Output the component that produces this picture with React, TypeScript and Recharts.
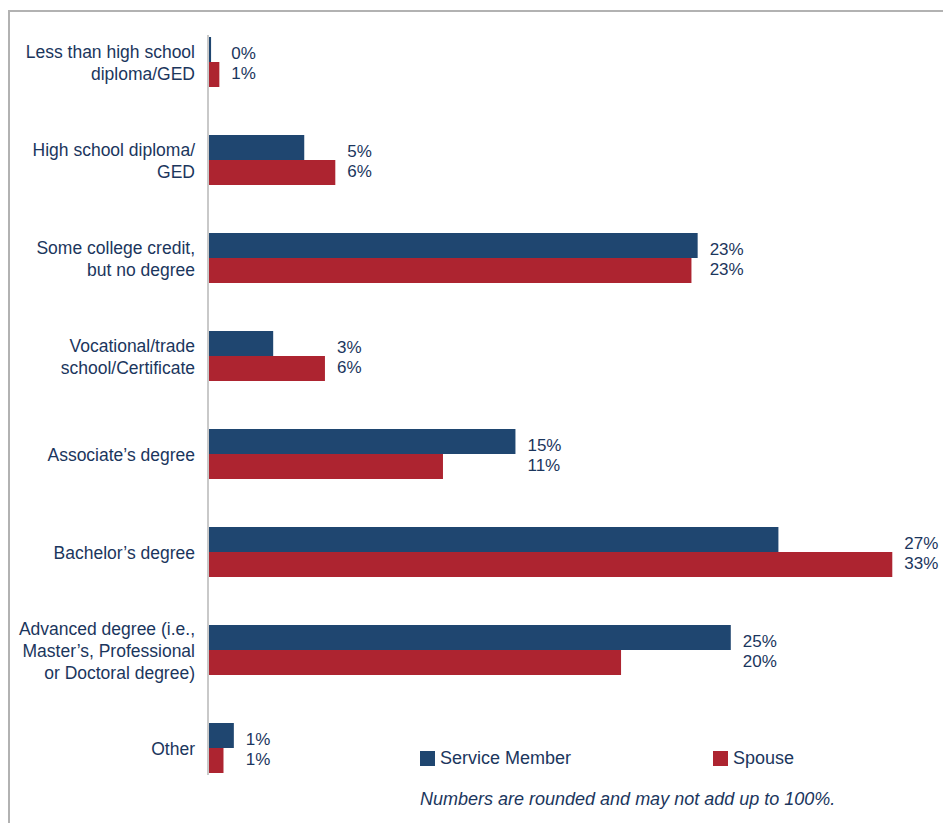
import React from 'react';
import { BarChart, Bar, XAxis, YAxis, LabelList } from 'recharts';

const categories = [
  'Less than high school\ndiploma/GED',
  'High school diploma/\nGED',
  'Some college credit,\nbut no degree',
  'Vocational/trade\nschool/Certificate',
  'Associate’s degree',
  'Bachelor’s degree',
  'Advanced degree (i.e.,\nMaster’s, Professional\nor Doctoral degree)',
  'Other',
];

// bar lengths as drawn (unrounded), and the rounded figures printed next to them
const serviceMember = [0.1, 4.6, 23.6, 3.1, 14.8, 27.5, 25.2, 1.2];
const spouse = [0.5, 6.1, 23.3, 5.6, 11.3, 33.0, 19.9, 0.7];
const serviceMemberPrinted = [0, 5, 23, 3, 15, 27, 25, 1];
const spousePrinted = [1, 6, 23, 6, 11, 33, 20, 1];

const seriesNames = ['Service Member', 'Spouse'];
const note = 'Numbers are rounded and may not add up to 100%.';

const NAVY = '#1f4670';
const RED = '#ad2430';
const TEXT = '#1b365d';
const FONT = '"Liberation Sans", Arial, sans-serif';

const data = categories.map((c, i) => ({
  name: c,
  sm: serviceMember[i],
  sp: spouse[i],
  smLabel: serviceMemberPrinted[i],
  spLabel: spousePrinted[i],
  top: Math.max(serviceMember[i], spouse[i]),
}));

const CategoryTick = (props: any) => {
  const { x, y, payload } = props;
  const lines: string[] = String(payload.value).split('\n');
  const start = y + 1 - ((lines.length - 1) * 22) / 2;
  return (
    <text x={x} y={start} textAnchor="end" fill={TEXT} fontSize={17.5} fontFamily={FONT}>
      {lines.map((l, i) => (
        <tspan key={i} x={x} y={start + i * 22} dominantBaseline="central">
          {l}
        </tspan>
      ))}
    </text>
  );
};

// both labels of a pair sit just past the longer bar
const makeLabel = (which: 'sm' | 'sp') => (props: any) => {
  const { x, y, width, height, index } = props;
  const row = data[index];
  const own = which === 'sm' ? row.sm : row.sp;
  const perUnit = width / own;
  const lx = x + perUnit * row.top + 12;
  const ly = which === 'sm' ? y + height - 9 : y + 11;
  const txt = (which === 'sm' ? row.smLabel : row.spLabel) + '%';
  return (
    <text x={lx} y={ly} fill={TEXT} fontSize={17} fontFamily={FONT} dominantBaseline="central">
      {txt}
    </text>
  );
};

const App = () => (
  <div style={{ position: 'relative', width: 935, height: 815, margin: '8px 0 0 8px', fontFamily: FONT }}>
    <style>{'body { margin: 0; }'}</style>
    <div
      style={{
        position: 'absolute',
        left: 0,
        top: 2,
        width: 935,
        height: 823,
        borderTop: '2px solid #b2b2b2',
        borderLeft: '2px solid #b2b2b2',
        boxSizing: 'border-box',
      }}
    />
    <BarChart
      width={935}
      height={815}
      data={data}
      layout="vertical"
      margin={{ top: 5, right: 30, bottom: 26, left: 0 }}
      barSize={25}
      barGap={0}
      style={{ position: 'absolute', left: 0, top: 0 }}
    >
      <XAxis type="number" domain={[0, 34]} hide />
      <YAxis
        type="category"
        dataKey="name"
        width={201}
        axisLine={false}
        tickLine={false}
        tickSize={0}
        tickMargin={14}
        interval={0}
        tick={<CategoryTick />}
      />
      <Bar dataKey="sm" fill={NAVY} isAnimationActive={false}>
        <LabelList dataKey="sm" content={makeLabel('sm')} />
      </Bar>
      <Bar dataKey="sp" fill={RED} isAnimationActive={false}>
        <LabelList dataKey="sp" content={makeLabel('sp')} />
      </Bar>
    </BarChart>
    {/* vertical axis rule */}
    <div style={{ position: 'absolute', left: 199, top: 27, width: 2, height: 740, background: '#c9c9c9' }} />
    {/* legend */}
    {seriesNames.map((s, i) => (
      <div
        key={s}
        style={{
          position: 'absolute',
          left: i === 0 ? 412 : 705,
          top: 740,
          display: 'flex',
          alignItems: 'center',
          color: TEXT,
          fontSize: 18,
          lineHeight: '20px',
        }}
      >
        <span style={{ display: 'inline-block', width: 15, height: 15, background: i === 0 ? NAVY : RED, marginRight: 5 }} />
        <span>{s}</span>
      </div>
    ))}
    <div
      style={{
        position: 'absolute',
        left: 412,
        top: 781,
        color: TEXT,
        fontSize: 18,
        lineHeight: '20px',
        fontStyle: 'italic',
      }}
    >
      {note}
    </div>
  </div>
);

export default App;
